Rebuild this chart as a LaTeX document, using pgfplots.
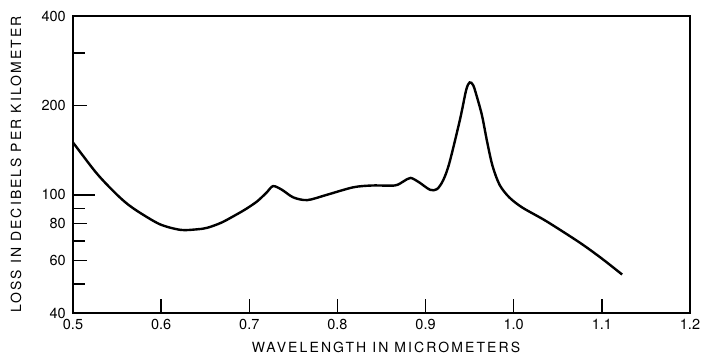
\documentclass[border=0pt]{standalone}
\usepackage{fontspec}
\setmainfont{TeX Gyre Heros}
\newfontfamily\spaced[LetterSpace=15]{TeX Gyre Heros}
\usepackage{pgfplots}
\pgfplotsset{compat=1.18}
\begin{document}
\begin{tikzpicture}
\useasboundingbox (-73pt,-43.5pt) rectangle (630pt,313pt);
\begin{axis}[
  at={(0pt,0pt)}, anchor=south west,
  scale only axis,
  width=617pt, height=297pt,
  xmin=0.5, xmax=1.2,
  ymin=40, ymax=400,
  ymode=log,
  axis line style={line width=1.9pt},
  xtick={0.5,0.6,0.7,0.8,0.9,1.0,1.1,1.2},
  xticklabels={0.5,0.6,0.7,0.8,0.9,1.0,1.1,1.2},
  ytick={40,60,80,200,400},
  yticklabels={40,60,80,200,400},
  extra y ticks={100},
  extra y tick labels={100},
  extra y tick style={major tick length=22pt},
  minor ytick={50,70,90,300},
  xtick pos=left, ytick pos=left,
  tick align=inside,
  major tick length=14pt,
  minor tick length=12pt,
  tick style={line width=1.5pt, black},
  every tick label/.append style={font=\fontsize{14.5}{14.5}\selectfont, inner sep=0pt},
  xticklabel style={anchor=north, yshift=-6.5pt},
  yticklabel style={anchor=east, xshift=-7pt},
]
\addplot[line width=2.4pt, black, smooth, tension=0.5] coordinates {
(0.500,150) (0.523,122) (0.535,111) (0.550,100) (0.562,93)
(0.576,87) (0.599,79.5) (0.622,76.2) (0.640,76.5) (0.652,77.4) (0.668,80.5)
(0.682,84.7) (0.696,89.5) (0.709,95.1) (0.720,102) (0.727,107) (0.737,104)
(0.750,98) (0.766,96) (0.788,100)
(0.818,106) (0.840,107.5) (0.865,107.5) (0.875,111) (0.883,114) (0.893,110)
(0.905,104) (0.913,104.5) (0.920,112) (0.927,128) (0.939,179) (0.946,225)
(0.950,239) (0.954,234) (0.958,215) (0.964,185) (0.970,150) (0.976,125)
(0.984,108) (0.995,98) (1.010,90.5) (1.037,81.5) (1.075,69) (1.100,61)
(1.123,53.9)
};
\end{axis}
\node[anchor=base, font=\fontsize{14}{14}\spaced] at (313pt,-39.5pt) {WAVELENGTH IN MICROMETERS};
\node[rotate=90, anchor=center, font=\fontsize{14}{14}\spaced] at (-57pt,148.5pt) {LOSS IN DECIBELS PER KILOMETER};
\end{tikzpicture}
\end{document}
